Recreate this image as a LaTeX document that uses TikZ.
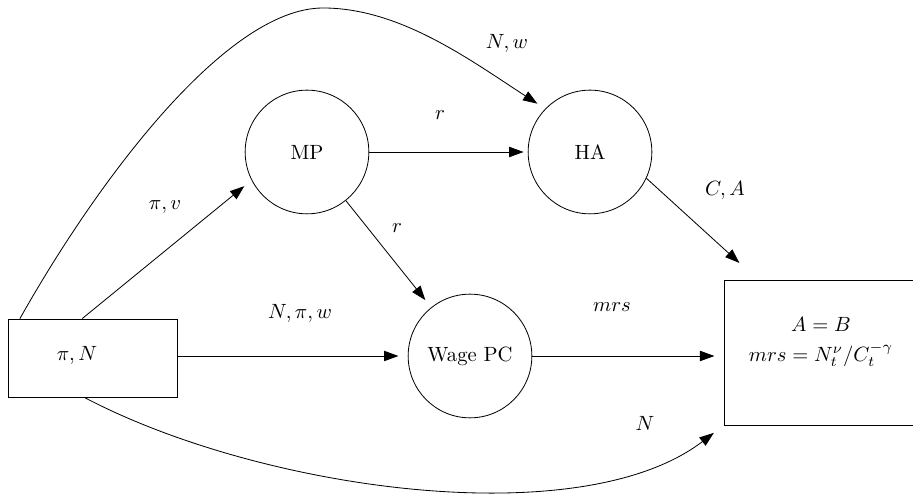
\documentclass[tikz,border=0pt]{standalone}
\usepackage{amsmath}
\usetikzlibrary{arrows.meta}

\begin{document}
\begin{tikzpicture}[x=0.485pt,y=-0.485pt,
  blk/.style={draw,circle,minimum size=60pt,inner sep=0pt},
  boxn/.style={draw,rectangle,inner sep=0pt},
  arr/.style={-{Triangle[length=7pt,width=5pt]},shorten >=4.5pt}]
\useasboundingbox (0,0) rectangle (913,497);
% ---- blocks ----
\node[boxn,minimum width=82pt,minimum height=37.8pt] (src) at (92.5,358) {};
\node (srclab) at (77,355) {$\pi, N$};
\node[blk] (mp) at (307,152) {MP};
\node[blk] (ha) at (590,152) {HA};
\node[blk] (wage) at (470,356) {Wage PC};
\node[boxn,minimum width=94pt,minimum height=70.3pt] (res) at (821,352.5) {};
\node[align=center] (reslab) at (821,342) {$A=B$\\[2.5pt]$mrs=N_t^{\nu}/C_t^{-\gamma}$};
% ---- arrows ----
\draw[arr] ([xshift=-5pt]src.north) -- (mp.207);
\draw[arr] ([xshift=6pt]src.north west) .. controls (95,185) and (225,8) .. (323,8)
  .. controls (400,8) and (470,60) .. (ha.136);
\draw[arr,shorten >=2pt] (mp) -- (ha);
\draw[arr] (mp) -- (wage);
\draw[arr] (src.east |- wage) -- (wage);
\draw[arr] (wage) -- (res.west |- wage);
\draw[arr,shorten >=12pt] (ha.-25) -- ([xshift=16.5pt]res.north west);
\draw[arr,shorten >=6pt] ([xshift=-4pt]src.south) .. controls (260,490) and (580,535) .. (res.south west);
% ---- labels ----
\node (lpv) at (165,207) {$\pi, v$};
\node (lr1) at (440,115) {$r$};
\node (lr2) at (397,228) {$r$};
\node (lnpw) at (300,313) {$N, \pi, w$};
\node (lmrs) at (612,307) {$mrs$};
\node (lca) at (725,190) {$C, A$};
\node (lnw) at (507,43) {$N, w$};
\node (ln) at (645,423) {$N$};
\end{tikzpicture}
\end{document}
